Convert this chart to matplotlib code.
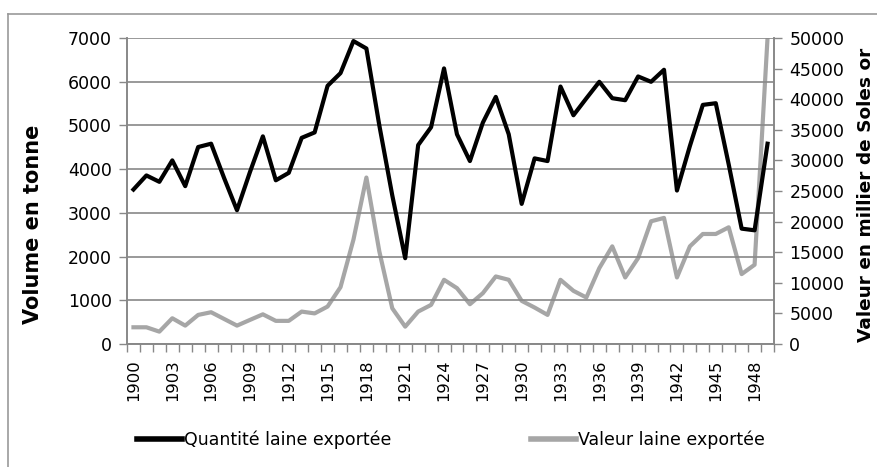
import matplotlib.pyplot as plt
from matplotlib.lines import Line2D
from matplotlib.transforms import Bbox, TransformedBbox
import numpy as np

plt.rcParams['font.family'] = ['DejaVu Sans']

years = list(range(1900, 1950))
# quantite exportee (tonnes), axe gauche
quantite = [3534, 3856, 3710, 4200, 3611, 4506, 4582, 3800, 3060, 3932,
            4750, 3745, 3915, 4716, 4840, 5906, 6197, 6930, 6760, 5000,
            3400, 1963, 4550, 4960, 6304, 4797, 4185, 5064, 5653, 4797,
            3205, 4246, 4185, 5890, 5233, 5620, 5998, 5623, 5577, 6120,
            5998, 6273, 3511, 4529, 5470, 5508, 4108, 2639, 2601, 4582]
# valeur exportee (milliers de soles or), axe droit
valeur = [2732, 2732, 2022, 4207, 3005, 4754, 5191, 4098, 3005, 3934,
          4850, 3780, 3780, 5295, 5000, 6120, 9289, 17048, 27200, 15131,
          5836, 2836, 5295, 6393, 10491, 9125, 6502, 8305, 11037, 10491,
          7049, 5956, 4754, 10491, 8688, 7595, 12400, 15955, 10873, 14043,
          20053, 20600, 10873, 15955, 17977, 17977, 19070, 11420, 12950, 50000]

left_label = "Volume en tonne"
right_label = "Valeur en millier de Soles or"
serie1 = "Quantité laine exportée"
serie2 = "Valeur laine exportée"

W, H = 877, 467
fig = plt.figure(figsize=(W/100, H/100), dpi=100)
ax = fig.add_axes([127/W, 1 - 344/H, (774-127)/W, (344-38)/H])
ax2 = ax.twinx()

grid_c = '#888888'
x = np.arange(len(years))

ax.set_ylim(0, 7000)
ax.set_yticks(range(0, 7001, 1000))
ax.yaxis.grid(True, color=grid_c, linewidth=1.2)
ax.set_axisbelow(True)
ax2.set_ylim(0, 50000)
ax2.set_yticks(range(0, 50001, 5000))

ax.set_xlim(-0.5, len(years) - 0.5)
ax.set_xticks(np.arange(-0.5, len(years), 1.0))
ax.set_xticklabels([])
ax.set_xticks(x[::3], minor=True)
ax.set_xticklabels([str(y) for y in years[::3]], minor=True, rotation=90)
ax.tick_params(axis='x', which='major', length=6, color=grid_c, width=1)
ax.tick_params(axis='x', which='minor', length=0, pad=11, labelsize=11.8)
ax.tick_params(axis='y', length=6, color=grid_c, width=1, labelsize=12.5, pad=5)
ax2.tick_params(axis='y', length=6, color=grid_c, width=1, labelsize=12.5, pad=5)

for a in (ax, ax2):
    a.spines['top'].set_visible(False)
    for s in ('left', 'right', 'bottom'):
        a.spines[s].set_color(grid_c)
        a.spines[s].set_linewidth(1.2)

ax.plot(x, quantite, color='black', linewidth=3.0, zorder=4)
ax2.plot(x, valeur, color='#a6a6a6', linewidth=3.0, zorder=3)
ax.set_zorder(ax2.get_zorder() + 1)
ax.patch.set_visible(False)

fig.text(33/W, 1 - 224/H, left_label, rotation=90, ha='center', va='center',
         fontsize=15, fontweight='bold')
t = fig.text(866/W, 1 - 342/H, right_label, rotation=90, ha='center', va='bottom',
             fontsize=13.3, fontweight='bold')
t.set_clip_box(TransformedBbox(Bbox([[0, 0], [1, 1 - 44/H]]), fig.transFigure))
t.set_clip_on(True)

# legende
fig.legend(handles=[Line2D([], [], color='black', linewidth=4)], labels=[serie1],
           loc='center left', bbox_to_anchor=(130/W, 1 - 440/H), frameon=False,
           handlelength=2.6, handletextpad=0.1, fontsize=12.5, borderaxespad=0)
fig.legend(handles=[Line2D([], [], color='#a6a6a6', linewidth=4)], labels=[serie2],
           loc='center left', bbox_to_anchor=(524/W, 1 - 440/H), frameon=False,
           handlelength=2.6, handletextpad=0.1, fontsize=12.5, borderaxespad=0)

# cadre du graphique
fig.add_artist(Line2D([8/W, 1], [1 - 14/H, 1 - 14/H], color='#999999', linewidth=1.2))
fig.add_artist(Line2D([8/W, 8/W], [0, 1 - 14/H], color='#999999', linewidth=1.2))

fig.savefig('out.png', dpi=100)
